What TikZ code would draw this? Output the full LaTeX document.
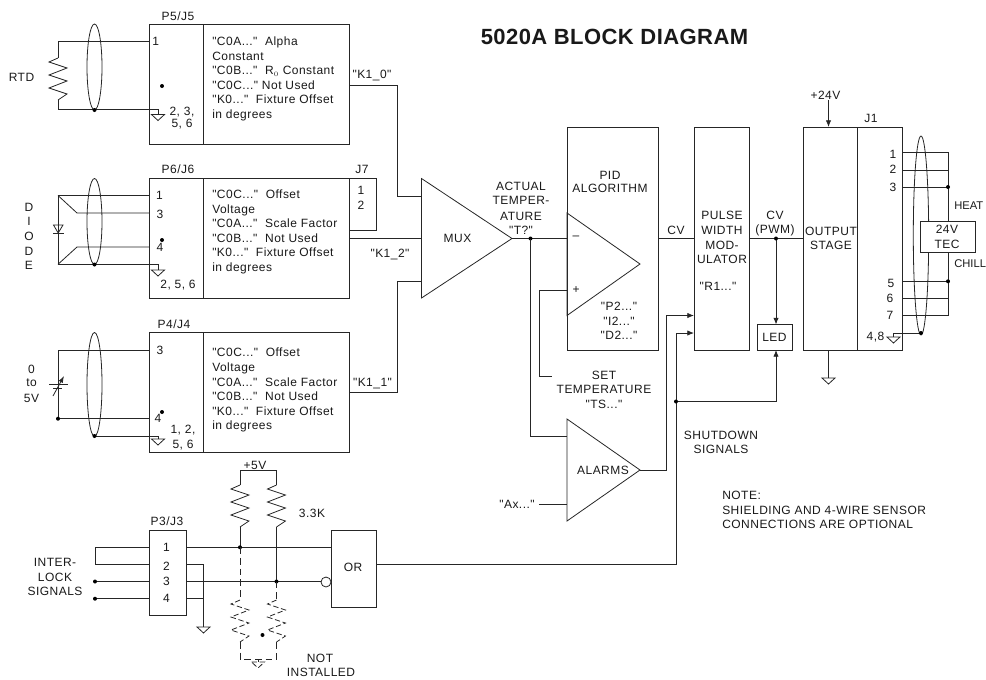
\documentclass[tikz,border=0pt]{standalone}
\usepackage{fontspec}
\setmainfont{Liberation Sans}
\newfontfamily\lblf[LetterSpace=4]{Liberation Sans}
\newfontfamily\ttlf[LetterSpace=2]{Liberation Sans}
\usetikzlibrary{arrows.meta}
\newcounter{lbc}
\newcounter{dtc}
\newcommand{\Lb}[3]{\stepcounter{lbc}\node[lab] (lb\arabic{lbc}) at (#1,#2) {#3};}
\newcommand{\Ll}[3]{\stepcounter{lbc}\node[lab,anchor=west] (lb\arabic{lbc}) at (#1,#2) {#3};}
\newcommand{\Dt}[2]{\stepcounter{dtc}\node[dotn] (dt\arabic{dtc}) at (#1,#2) {};}
\newcommand{\Bx}[5]{\node[boxn,minimum width=#4*0.75pt,minimum height=#5*0.75pt] (#1) at ({#2+#4/2},{#3+#5/2}) {};}
\newcommand{\Tx}[3]{\stepcounter{lbc}\node[blockt] (lb\arabic{lbc}) at (#1,#2) {#3};}
\tikzset{
  wire/.style={line width=0.6pt,color=black!85},
  dwire/.style={wire,dash pattern=on 5pt off 3pt},
  lab/.style={font=\lblf\fontsize{9}{11}\selectfont,inner sep=0pt,text=black!90},
  edgelab/.style={lab,anchor=west,font=\fontsize{8.4}{10}\selectfont},
  blockt/.style={lab,anchor=north west,align=left,font=\lblf\fontsize{9}{10.95}\selectfont},
  dotn/.style={circle,fill=black,inner sep=0pt,minimum size=3pt},
  boxn/.style={wire,draw,fill=white,inner sep=0pt},
  arr/.style={wire,-{Latex[length=5pt,width=4pt]}},
  pics/gndsym/.style={code={\draw[wire,#1] (-6.5,0)--(6.5,0)--(0,6)--cycle;}},
  pics/ressym/.style={code={\draw[wire,#1,line join=miter] (0,0)--(-9,4)--(9,10)--(-9,17)--(9,23)--(-9,30)--(9,36)--(0,42);}},
}
\begin{document}
\begin{tikzpicture}[x=0.75pt,y=-0.75pt]
\useasboundingbox (0,0) rectangle (986,679);
% ---------- blocks
\Bx{pfiveL}{149}{24.5}{54}{120}
\Bx{pfiveR}{203}{24.5}{146.5}{120}
\Bx{psixL}{149}{178.5}{54}{119.5}
\Bx{psixR}{203}{178.5}{146.5}{119.5}
\Bx{jseven}{349.5}{178.5}{26.5}{51.5}
\Bx{pfourL}{149}{332.7}{54}{120}
\Bx{pfourR}{203}{332.7}{146.5}{120}
\Bx{pthree}{149}{530}{37}{85.7}
\Bx{orb}{331}{530}{45.5}{77}
\Bx{pid}{567}{127}{91}{223}
\Bx{pwm}{694}{127}{55}{223}
\Bx{led}{757.5}{324.5}{34.5}{25.5}
\Bx{outs}{803}{127}{54.5}{223}
\Bx{jone}{857.5}{127}{45}{223}
% ---------- triangles
\coordinate (muxa) at (421.5,178.5);\coordinate (muxb) at (421.5,298);\coordinate (muxt) at (512,238.5);
\coordinate (opa) at (567,213);\coordinate (opb) at (567,315.5);\coordinate (opt) at (640,264);
\coordinate (ala) at (567,419);\coordinate (alb) at (567,521);\coordinate (alt) at (640,470);
\draw[wire] (muxa)--(muxt)--(muxb)--cycle;
\draw[wire] (opa)--(opt)--(opb)--cycle;
\draw[wire] (ala)--(alt)--(alb)--cycle;
% ---------- RTD
\coordinate (rtdt) at (58,41);\coordinate (rtdb) at (58,109.5);
\draw[wire] (pfiveL.west |- rtdt)--(rtdt)--(58,58);
\pic at (58,58) {ressym};
\draw[wire] (58,100)--(rtdb)--(158,109.5)--(158,114.5);
\pic at (158,114.5) {gndsym};
\draw[wire] (94.5,67) ellipse [x radius=7.5,y radius=43];
\Dt{94.5}{110}\Dt{162}{86}
% ---------- K1 wires
\draw[wire] (349.5,85)--(397,85)--(397,196)--(421.5,196);
\draw[wire] (376,230)--(349.5,230);
\draw[wire] (349.5,238)--(421.5,238);
\draw[wire] (349.5,392.7)--(397,392.7)--(397,281)--(421.5,281);
% ---------- diode
\draw[wire] (149,195.5)--(58,195.5)--(58,264.3)--(158,264.3)--(158,270);
\draw[wire] (58,195.5)--(77,213)--(149,213);
\draw[wire] (58,264.3)--(77,247)--(149,247);
\draw[wire] (53,233.5)--(63.5,233.5);
\draw[wire] (53.5,225)--(63,225)--(58.2,233)--cycle;
\pic at (158,270) {gndsym};
\draw[wire] (94.5,221.5) ellipse [x radius=7.5,y radius=43];
\Dt{94.5}{264.5}\Dt{162}{240}
% ---------- 0-5V source
\draw[wire] (149,350)--(58,350)--(58,418.7)--(149,418.7);
\draw[wire] (49,384.5)--(68,384.5);
\draw[wire] (53,388.5)--(62,388.5);
\draw[wire,-{Latex[length=5pt,width=3.5pt]}] (53,396)--(64,376);
\draw[wire] (94.5,384.5) ellipse [x radius=7.5,y radius=52];
\draw[wire] (94.5,436)--(158,436)--(158,439);
\pic at (158,439) {gndsym};
\Dt{58}{418.7}\Dt{94.5}{436}\Dt{162}{412}
% ---------- interlock
\coordinate (inA) at (95,547.3);\coordinate (inB) at (95,564.3);\coordinate (inC) at (95,581.5);\coordinate (inD) at (95,598.7);
\draw[wire] (149,547.3)--(inA)--(inB)--(149,564.3);
\draw[wire] (inC)--(149,581.5);
\draw[wire] (inD)--(149,598.7);
\Dt{95}{581.5}\Dt{95}{598.7}
\draw[wire] (186,547.3)--(331,547.3);
\draw[wire] (186,581.5)--(321,581.5);
\draw[wire,fill=white] (326,582) circle [radius=5];
\draw[wire] (186,564.3)--(203.5,564.3)--(203.5,627);
\draw[wire] (186,598.7)--(203.5,598.7);
\pic at (203.5,627) {gndsym};
\draw[wire] (240,485)--(240,470)--(276.5,470)--(276.5,485);
\pic at (240,485) {ressym};
\pic at (276.5,485) {ressym};
\draw[wire] (240,527)--(240,547.3);
\draw[wire] (276.5,527)--(276.5,581.5);
\Dt{240}{547.3}\Dt{276.5}{581.5}
\draw[dwire] (240,547.3)--(240,600);
\draw[dwire] (276.5,581.5)--(276.5,600);
\pic at (240,600) {ressym={dash pattern=on 4pt off 2pt}};
\pic at (276.5,600) {ressym={dash pattern=on 4pt off 2pt}};
\draw[dwire] (240,642)--(240,659)--(276.5,659)--(276.5,642);
\draw[dwire] (258,659)--(258,662);
\pic at (258,662) {gndsym={dash pattern=on 4pt off 2pt}};
\Dt{262.5}{635}
% ---------- OR out + shutdown
\coordinate (sd) at (676,401.5);
\draw[wire] (376.5,564)--(676,564)--(sd);
\draw[arr] (sd)--(676,333)--(694,333);
\draw[arr] (sd)--(776,401.5)--(776,350);
\Dt{676}{401.5}
% ---------- PID inputs
\coordinate (tnode) at (530.5,238.5);
\draw[wire] (muxt)--(567,238.5);
\Dt{530.5}{238.5}
\draw[wire] (tnode)--(530.5,436)--(567,436);
\draw[wire] (567,290)--(539,290)--(539,376)--(552,376);
\draw[wire] (539,504)--(567,504);
\draw[arr] (alt)--(666.5,470)--(666.5,315.5)--(694,315.5);
\draw[wire] (658,238.5)--(694,238.5);
\draw[wire] (749,238.5)--(803,238.5);
\draw[arr] (776,238.5)--(776,324.5);
\Dt{776}{238.5}
% ---------- output
\draw[arr] (828.5,100)--(828.5,127);
\draw[wire] (828.5,350)--(828.5,378);
\pic at (828.5,378) {gndsym};
\draw[wire] (902.5,152.3)--(948,152.3)--(948,315.7)--(902.5,315.7);
\draw[wire] (902.5,170)--(948,170);
\draw[wire] (902.5,187)--(948,187);
\draw[wire] (902.5,281.3)--(948,281.3);
\draw[wire] (902.5,298)--(948,298);
\Dt{948}{187}\Dt{948}{281.3}
\draw[wire] (921,235.5) ellipse [x radius=7.7,y radius=99.5];
\draw[wire] (921,333)--(893.5,333)--(893.5,337);
\pic at (893.5,337) {gndsym};
\Dt{921}{333}
\Bx{tec}{920.3}{221}{55.4}{31.3}
% ---------- text
\node[inner sep=0pt,font=\ttlf\bfseries\fontsize{16.5}{18}\selectfont,text=black!90] (title) at (614.5,37) {5020A BLOCK DIAGRAM};
\Lb{178}{16}{P5/J5}\Lb{155.7}{41}{1}\Lb{21.5}{77}{RTD}
\Lb{182}{111.7}{2, 3,}\Lb{182}{124}{5, 6}
\Tx{212}{36.5}{"C0A..."\ \ Alpha\\Constant\\"C0B..."\ \ R$_{\scriptscriptstyle 0}$ Constant\\"C0C..." Not Used\\"K0..."\ \ Fixture Offset\\in degrees}
\Lb{372}{75}{"K1\_0"}
\Lb{178}{169}{P6/J6}\Lb{362}{169}{J7}\Lb{361}{190}{1}\Lb{361}{205}{2}
\Lb{159.5}{195}{1}\Lb{160}{214}{3}\Lb{160}{247}{4}\Lb{178}{285}{2, 5, 6}
\Lb{29}{207}{D}\Lb{29}{221.5}{I}\Lb{29}{236}{O}\Lb{29}{251}{D}\Lb{29}{265}{E}
\Tx{212}{189.5}{"C0C..."\ \ Offset\\Voltage\\"C0A..."\ \ Scale Factor\\"C0B..."\ \ Not Used\\"K0..."\ \ Fixture Offset\\in degrees}
\Lb{390}{254}{"K1\_2"}
\Lb{174}{324}{P4/J4}\Lb{160}{350}{3}\Lb{158}{418}{4}\Lb{183}{430}{1, 2,}\Lb{183}{445}{5, 6}
\Lb{31.5}{369}{0}\Lb{31.5}{383}{to}\Lb{31.5}{398}{5V}
\Tx{212}{348}{"C0C..."\ \ Offset\\Voltage\\"C0A..."\ \ Scale Factor\\"C0B..."\ \ Not Used\\"K0..."\ \ Fixture Offset\\in degrees}
\Lb{372.5}{384}{"K1\_1"}
\Lb{312}{513}{3.3K}\Lb{255}{465}{+5V}\Lb{167}{521}{P3/J3}
\Lb{166.5}{547}{1}\Lb{166.5}{566}{2}\Lb{166.5}{581}{3}\Lb{166.5}{598}{4}
\Lb{55}{562}{INTER-}\Lb{55}{577}{LOCK}\Lb{55}{591}{SIGNALS}
\Lb{353}{567.5}{OR}\Lb{320}{658.5}{NOT}\Lb{321}{672.5}{INSTALLED}
\Lb{457.5}{238}{MUX}
\Lb{521}{186.7}{ACTUAL}\Lb{521}{200.7}{TEMPER-}\Lb{521}{216}{ATURE}\Lb{521}{230}{"T?"}
\Lb{610}{175}{PID}\Lb{610}{188.7}{ALGORITHM}
\Lb{576}{238}{–}\Lb{576}{290}{+}\Lb{676}{230}{CV}
\Lb{619}{306}{"P2..."}\Lb{619}{321}{"I2..."}\Lb{619}{335.5}{"D2..."}
\Lb{722}{215.7}{PULSE}\Lb{722}{230.7}{WIDTH}\Lb{722}{245}{MOD-}\Lb{722}{259}{ULATOR}\Lb{718}{286.7}{"R1..."}
\Lb{775}{215}{CV}\Lb{775}{230}{(PWM)}
\Lb{774.5}{337}{LED}\Lb{831}{231}{OUTPUT}\Lb{831}{245.5}{STAGE}\Lb{825.5}{95}{+24V}\Lb{871}{118}{J1}
\Lb{893}{154}{1}\Lb{893}{169}{2}\Lb{893}{187}{3}\Lb{891}{283}{5}\Lb{890}{298}{6}\Lb{890}{315}{7}\Lb{875.5}{337}{4,8}
\node[edgelab] (heat) at (954,206) {HEAT};
\node[edgelab] (chill) at (954,264) {CHILL};
\Lb{947}{229}{24V}\Lb{947}{244}{TEC}
\Lb{604}{375}{SET}\Lb{604}{389.5}{TEMPERATURE}\Lb{604}{404}{"TS..."}
\Lb{603}{470}{ALARMS}\Lb{517}{504}{"Ax..."}
\Lb{721}{435}{SHUTDOWN}\Lb{721}{449}{SIGNALS}
\Ll{722}{495}{NOTE:}\Ll{722}{510}{SHIELDING AND 4-WIRE SENSOR}\Ll{722}{524.5}{CONNECTIONS ARE OPTIONAL}
\end{tikzpicture}
\end{document}
